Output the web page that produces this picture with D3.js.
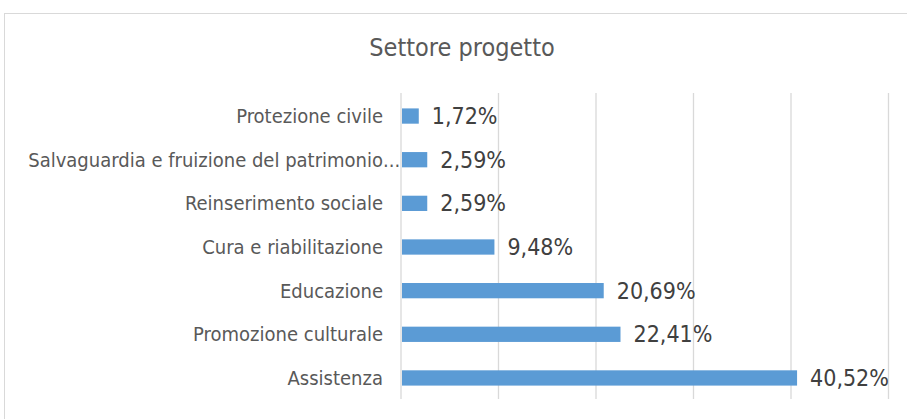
<!DOCTYPE html>
<html>
<head>
<meta charset="utf-8">
<script src="https://cdn.jsdelivr.net/npm/d3@7"></script>
<style>
  body { margin: 0; background: #fff; }
  svg text { font-family: "DejaVu Sans Condensed", "DejaVu Sans", sans-serif; font-stretch: condensed; }
</style>
</head>
<body>
<div id="chart"></div>
<script>
var categories = ["Protezione civile", "Salvaguardia e fruizione del patrimonio...", "Reinserimento sociale",
  "Cura e riabilitazione", "Educazione", "Promozione culturale", "Assistenza"];
var values = [1.72, 2.59, 2.59, 9.48, 20.69, 22.41, 40.52];
var ticks = [0, 10, 20, 30, 40, 50];

var width = 907, height = 419;
var plotLeft = 401, plotRight = 888.5, plotTop = 94, plotBottom = 400;

var svg = d3.select("#chart").append("svg")
  .attr("width", width).attr("height", height);

// chart frame
svg.append("rect")
  .attr("x", 4.5).attr("y", 13.5)
  .attr("width", 920).attr("height", 420)
  .attr("fill", "#fff").attr("stroke", "#d9d9d9");

svg.append("text")
  .attr("x", 462).attr("y", 56)
  .attr("text-anchor", "middle")
  .attr("font-size", 25).attr("fill", "#595959")
  .text("Settore progetto");

var x = d3.scaleLinear().domain([0, 50]).range([plotLeft, plotRight]);
var y = d3.scaleBand().domain(categories).range([plotTop, plotBottom]).paddingInner(0.65).paddingOuter(0.33);

// gridlines
svg.append("g").selectAll("line")
  .data(ticks)
  .enter().append("line")
  .attr("x1", d => x(d)).attr("x2", d => x(d))
  .attr("y1", 93).attr("y2", 399)
  .attr("stroke", "#d9d9d9").attr("stroke-width", 1.3);

svg.append("g").selectAll("rect.bar")
  .data(values)
  .enter().append("rect")
  .attr("class", "bar")
  .attr("x", x(0) + 1)
  .attr("y", (d, i) => y(categories[i]))
  .attr("width", d => x(d) - x(0))
  .attr("height", y.bandwidth())
  .attr("fill", "#5b9bd5");

// category labels (truncated ones keep their "..." hanging past the text edge)
var labels = svg.append("g").selectAll("g")
  .data(categories)
  .enter().append("g")
  .attr("transform", d => "translate(0," + (y(d) + y.bandwidth() / 2) + ")");

labels.append("text")
  .attr("x", plotLeft - 18)
  .attr("dy", "0.35em")
  .attr("text-anchor", "end")
  .attr("font-size", 20).attr("fill", "#595959")
  .text(d => d.replace(/\.\.\.$/, ""));

labels.filter(d => /\.\.\.$/.test(d)).append("text")
  .attr("x", plotLeft - 18)
  .attr("dy", "0.35em")
  .attr("font-size", 20).attr("fill", "#595959")
  .text("...");

// value labels
svg.append("g").selectAll("text")
  .data(values)
  .enter().append("text")
  .attr("x", d => x(d) + 14)
  .attr("y", (d, i) => y(categories[i]) + y.bandwidth() / 2)
  .attr("dy", "0.35em")
  .attr("font-size", 23).attr("fill", "#404040")
  .text(d => d.toFixed(2).replace(".", ",") + "%");
</script>
</body>
</html>
